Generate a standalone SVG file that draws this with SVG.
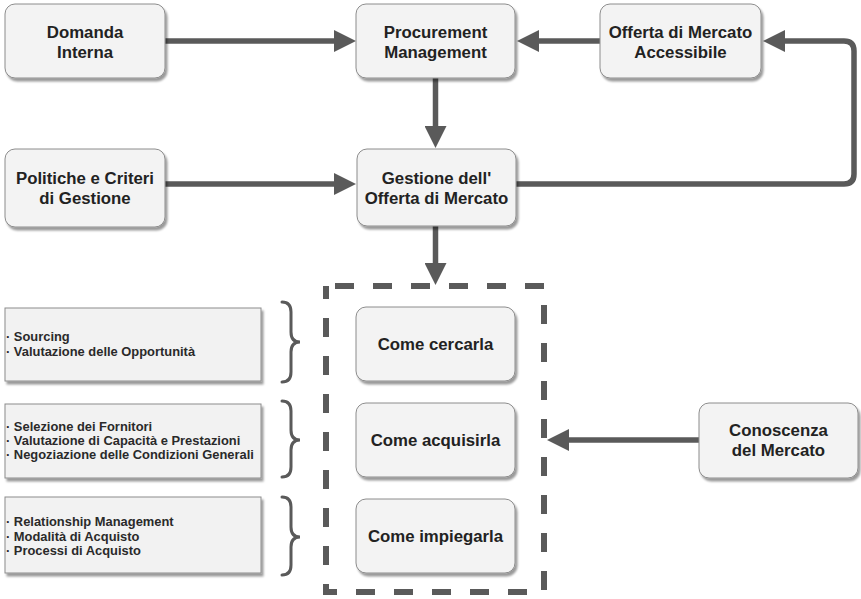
<svg xmlns="http://www.w3.org/2000/svg" width="861" height="599" viewBox="0 0 861 599">
  <defs>
    <filter id="shadow" x="-10%" y="-10%" width="130%" height="140%">
      <feDropShadow dx="2" dy="3" stdDeviation="1.2" flood-color="#000" flood-opacity="0.4"/>
    </filter>
    <marker id="arrow" markerUnits="userSpaceOnUse" markerWidth="22" markerHeight="22" viewBox="0 0 22 22" refX="1" refY="11" orient="auto">
      <path d="M0,0 L22,11 L0,22 z" fill="#5a5a5a"/>
    </marker>
    <style>
      .node rect { fill: #f3f3f3; stroke: #8c8c8c; stroke-width: 1; filter: url(#shadow); }
      .node text { font-family: "Liberation Sans", Arial, sans-serif; font-weight: bold; font-size: 16.8px; fill: #222; text-anchor: middle; }
      .list rect { fill: #f2f2f2; stroke: #8c8c8c; stroke-width: 1; filter: url(#shadow); }
      .list text { font-family: "Liberation Sans", Arial, sans-serif; font-weight: bold; font-size: 12.9px; fill: #2a2a2a; }
      .edge { fill: none; stroke: #5a5a5a; stroke-width: 5.5; marker-end: url(#arrow); }
      .brace { fill: none; stroke: #5a5a5a; stroke-width: 3; stroke-linecap: round; }
      .frame { fill: none; stroke: #5a5a5a; stroke-width: 6; stroke-dasharray: 19 19; stroke-dashoffset: 29; }
    </style>
  </defs>

  <!-- connectors -->
  <g id="connectors">
    <path class="edge" d="M165,41 H335"/>
    <path class="edge" d="M600,41 H538"/>
    <path class="edge" d="M435.5,78 V127"/>
    <path class="edge" d="M165,184 H335"/>
    <path class="edge" d="M516,184 H844 Q854,184 854,174 V51 Q854,41 844,41 H784"/>
    <path class="edge" d="M435.5,226 V264"/>
    <path class="edge" d="M699,440 H568"/>
  </g>

  <!-- dashed grouping frame -->
  <g id="frame">
    <path class="frame" d="M326,286 H544 V592 H326 Z"/>
  </g>

  <!-- main nodes -->
  <g id="domanda-interna" class="node">
    <rect x="5" y="4" width="160" height="74" rx="10"/>
    <text x="85" y="38">Domanda</text>
    <text x="85" y="58">Interna</text>
  </g>
  <g id="procurement-management" class="node">
    <rect x="356" y="4" width="159" height="74" rx="10"/>
    <text x="435.5" y="38">Procurement</text>
    <text x="435.5" y="58">Management</text>
  </g>
  <g id="offerta-accessibile" class="node">
    <rect x="600" y="4" width="161" height="74" rx="10"/>
    <text x="680.5" y="38">Offerta di Mercato</text>
    <text x="680.5" y="58">Accessibile</text>
  </g>
  <g id="politiche-criteri" class="node">
    <rect x="5" y="149" width="160" height="78" rx="10"/>
    <text x="85" y="184">Politiche e Criteri</text>
    <text x="85" y="204">di Gestione</text>
  </g>
  <g id="gestione-offerta" class="node">
    <rect x="357" y="149" width="159" height="77" rx="10"/>
    <text x="436.5" y="184">Gestione dell'</text>
    <text x="436.5" y="204">Offerta di Mercato</text>
  </g>
  <g id="come-cercarla" class="node">
    <rect x="356" y="307" width="159" height="74" rx="10"/>
    <text x="435.5" y="350">Come cercarla</text>
  </g>
  <g id="come-acquisirla" class="node">
    <rect x="356" y="403" width="159" height="74" rx="10"/>
    <text x="435.5" y="446">Come acquisirla</text>
  </g>
  <g id="come-impiegarla" class="node">
    <rect x="356" y="499" width="159" height="74" rx="10"/>
    <text x="435.5" y="542">Come impiegarla</text>
  </g>
  <g id="conoscenza-mercato" class="node">
    <rect x="699" y="403" width="159" height="75" rx="10"/>
    <text x="778.5" y="436">Conoscenza</text>
    <text x="778.5" y="456">del Mercato</text>
  </g>

  <!-- activity lists -->
  <g id="list-cercarla" class="list">
    <rect x="5" y="308" width="256" height="73"/>
    <text x="6" y="341">· Sourcing</text>
    <text x="6" y="356">· Valutazione delle Opportunità</text>
  </g>
  <g id="list-acquisirla" class="list">
    <rect x="5" y="404" width="256" height="74"/>
    <text x="6" y="431">· Selezione dei Fornitori</text>
    <text x="6" y="445">· Valutazione di Capacità e Prestazioni</text>
    <text x="6" y="459">· Negoziazione delle Condizioni Generali</text>
  </g>
  <g id="list-impiegarla" class="list">
    <rect x="5" y="497" width="256" height="76"/>
    <text x="6" y="526">· Relationship Management</text>
    <text x="6" y="541">· Modalità di Acquisto</text>
    <text x="6" y="555">· Processi di Acquisto</text>
  </g>

  <!-- braces -->
  <g id="braces">
    <path class="brace" d="M282,302 Q291,302 291,312 V332 Q291,342 300,342 Q291,342 291,352 V372 Q291,382 282,382"/>
    <path class="brace" d="M282,401 Q291,401 291,411 V430 Q291,440 300,440 Q291,440 291,450 V467 Q291,477 282,477"/>
    <path class="brace" d="M282,497 Q291,497 291,507 V527 Q291,537 300,537 Q291,537 291,547 V565 Q291,575 282,575"/>
  </g>
</svg>
